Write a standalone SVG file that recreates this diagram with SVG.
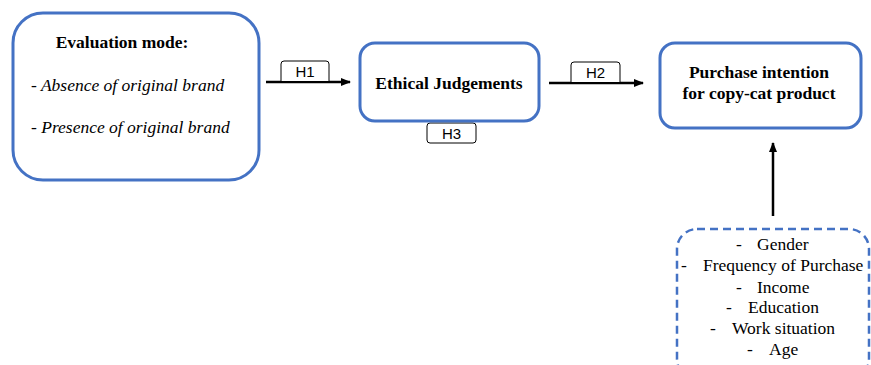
<svg xmlns="http://www.w3.org/2000/svg" width="871" height="365" viewBox="0 0 871 365">
<defs>
<marker id="ah" markerWidth="10" markerHeight="8" refX="9" refY="4" orient="auto" markerUnits="userSpaceOnUse">
<path d="M0,0 L10,4 L0,8 Z" fill="#000"/>
</marker>
<style>
.node{fill:#fff;stroke:#4472C4;stroke-width:3}
.dash{fill:#fff;stroke:#4472C4;stroke-width:2.5;stroke-dasharray:8 5}
.lbl{fill:#fff;stroke:#000;stroke-width:1}
.t{font-family:"Liberation Serif",serif;font-size:17.5px;fill:#000}
.b{font-weight:bold}
.i{font-style:italic}
.h{font-family:"Liberation Sans",Arial,sans-serif;font-size:15px;fill:#000;text-anchor:middle}
.c{text-anchor:middle}
.edge{stroke:#000;stroke-width:2.5;fill:none}
</style>
</defs>
<rect width="871" height="365" fill="#fff"/>
<g id="connectors">
<line class="edge" x1="266" y1="82" x2="350" y2="82" marker-end="url(#ah)"/>
<line class="edge" x1="549" y1="83" x2="643" y2="83" marker-end="url(#ah)"/>
<line class="edge" x1="773" y1="216" x2="773" y2="143" marker-end="url(#ah)"/>
<g id="h1"><path class="lbl" d="M281,81 V64 Q281,61 284,61 H326 Q329,61 329,64 V81"/><text class="h" x="305" y="77">H1</text></g>
<g id="h2"><path class="lbl" d="M571,82 V65 Q571,62 574,62 H617 Q620,62 620,65 V82"/><text class="h" x="595.5" y="78">H2</text></g>
<g id="h3"><rect class="lbl" x="427" y="123" width="49" height="20" rx="3"/><text class="h" x="451.5" y="139">H3</text></g>
</g>
<g id="evaluation-mode">
<rect class="node" x="13" y="13" width="246" height="167" rx="30"/>
<text class="t b c" x="122" y="48">Evaluation mode:</text>
<text class="t i" x="31" y="91">- Absence of original brand</text>
<text class="t i" x="31" y="133">- Presence of original brand</text>
</g>
<g id="ethical-judgements">
<rect class="node" x="360" y="43" width="179" height="78" rx="15"/>
<text class="t b c" x="449" y="89">Ethical Judgements</text>
</g>
<g id="purchase-intention">
<rect class="node" x="660" y="43" width="201" height="85" rx="15"/>
<text class="t b c" x="759" y="78">Purchase intention</text>
<text class="t b c" x="759" y="99">for copy-cat product</text>
</g>
<g id="controls">
<rect class="dash" x="677" y="229" width="192" height="150" rx="20"/>
<text class="t" x="736" y="250">-</text><text class="t" x="757" y="250">Gender</text>
<text class="t" x="681" y="271">-</text><text class="t" x="703" y="271">Frequency of Purchase</text>
<text class="t" x="736" y="293">-</text><text class="t" x="757" y="293">Income</text>
<text class="t" x="726" y="313">-</text><text class="t" x="748" y="313">Education</text>
<text class="t" x="710" y="334">-</text><text class="t" x="732" y="334">Work situation</text>
<text class="t" x="747" y="355">-</text><text class="t" x="769" y="355">Age</text>
</g>
</svg>
